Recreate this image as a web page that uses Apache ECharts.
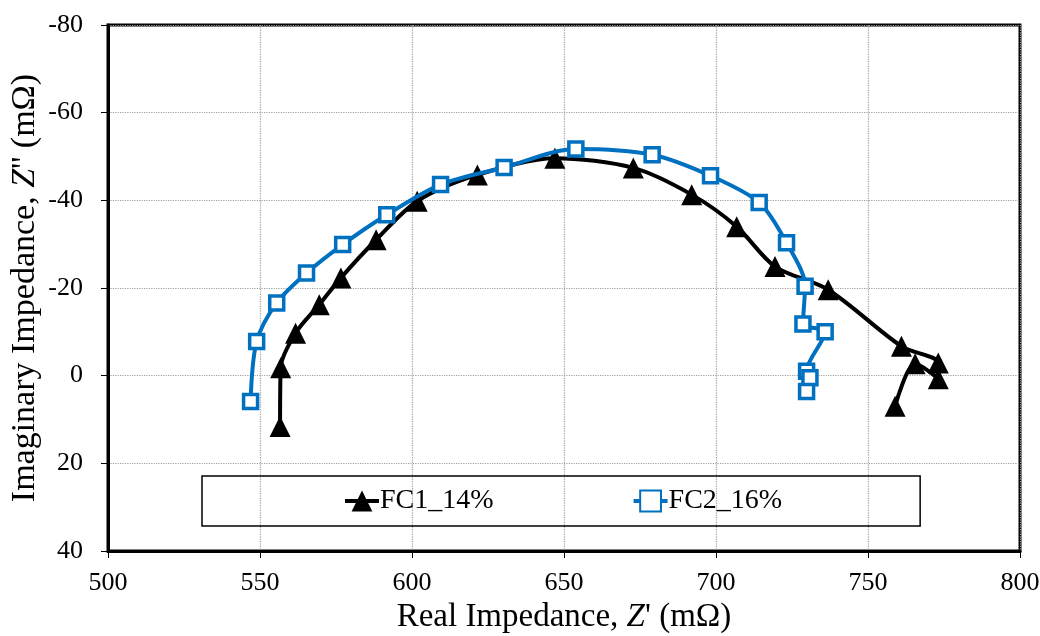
<!DOCTYPE html>
<html>
<head>
<meta charset="utf-8">
<script src="https://cdn.jsdelivr.net/npm/echarts@6/dist/echarts.min.js"></script>
<style>
  html, body { margin: 0; padding: 0; background: #fff; }
  #chart { width: 1040px; height: 636px; }
</style>
</head>
<body>
<div id="chart"></div>
<script>
  // Nyquist data (Z' , Z'' in mOhm)
  var fc1Real = [556.6, 556.8, 561.7, 569.5, 576.6, 588.2, 601.7, 621.5, 647.0, 672.8, 692.0, 706.8, 719.4, 736.9, 761.0, 773.1, 773.1, 765.5, 758.9]
  var fc1Imag = [11.6, -1.8, -9.7, -16.2, -22.3, -31.0, -39.8, -45.8, -49.6, -47.4, -41.3, -34.0, -24.9, -19.6, -6.7, -2.9, 0.7, -2.7, 7.0]
  var fc2Real = [546.9, 548.9, 555.5, 565.3, 577.2, 591.7, 609.4, 630.3, 653.9, 679.0, 698.2, 714.2, 723.2, 729.3, 728.6, 735.9, 729.8, 730.9, 729.8]
  var fc2Imag = [5.9, -7.8, -16.6, -23.4, -29.9, -36.7, -43.6, -47.5, -51.7, -50.4, -45.6, -39.5, -30.3, -20.4, -11.8, -10.0, -1.0, 0.5, 3.6]
  var seriesNames = ['FC1_14%', 'FC2_16%']

  function pairs(xs, ys) {
    var out = []
    for (var i = 0; i < xs.length; i++) {
      out.push([xs[i], ys[i]])
    }
    return out
  }

  var font = 'Liberation Serif'
  var chart = echarts.init(document.getElementById('chart'))
  var option = {
    backgroundColor: '#fff',
    animation: false,
    grid: {
      left: 108,
      right: 20,
      top: 25,
      bottom: 85,
      containLabel: false,
      outerBoundsMode: 'none',
      show: true,
      borderColor: '#000',
      borderWidth: 3
    },
    legend: {
      left: 202,
      top: 476,
      padding: [11, 138, 11, 141],
      itemWidth: 34,
      itemHeight: 26,
      itemGap: 138,
      borderColor: '#000',
      borderWidth: 1.5,
      lineStyle: { width: 4 },
      textStyle: { fontFamily: font, fontSize: 28, color: '#000', padding: [0, 0, 0, -4] },
      data: seriesNames
    },
    xAxis: {
      type: 'value',
      min: 500,
      max: 800,
      interval: 50,
      name: "Real Impedance, {i|Z}' (mΩ)",
      nameLocation: 'middle',
      nameGap: 50,
      nameMoveOverlap: false,
      nameTextStyle: {
        fontFamily: font, fontSize: 33, color: '#000',
        rich: { i: { fontFamily: font, fontSize: 33, fontStyle: 'italic', color: '#000' } }
      },
      axisLine: { show: true, onZero: false, lineStyle: { color: '#000', width: 3 } },
      axisTick: { show: true, length: 7, lineStyle: { color: '#000', width: 1 } },
      axisLabel: { fontFamily: font, fontSize: 26, color: '#000', margin: 19 },
      splitLine: { show: true, lineStyle: { color: '#a0a0a0', type: 'dotted', width: 1.2 } }
    },
    yAxis: {
      type: 'value',
      inverse: true,
      min: -80,
      max: 40,
      interval: 20,
      name: "Imaginary Impedance, {i|Z}'' (mΩ)",
      nameLocation: 'middle',
      nameGap: 66,
      nameMoveOverlap: false,
      nameTextStyle: {
        fontFamily: font, fontSize: 34, color: '#000',
        rich: { i: { fontFamily: font, fontSize: 34, fontStyle: 'italic', color: '#000' } }
      },
      axisLine: { show: true, onZero: false, lineStyle: { color: '#000', width: 3 } },
      axisTick: { show: true, length: 7, lineStyle: { color: '#000', width: 1 } },
      axisLabel: { fontFamily: font, fontSize: 26, color: '#000', margin: 25 },
      splitLine: { show: true, lineStyle: { color: '#a0a0a0', type: 'dotted', width: 1.2 } }
    },
    series: [
      {
        name: seriesNames[0],
        type: 'line',
        data: pairs(fc1Real, fc1Imag),
        smooth: 0.3,
        symbol: 'triangle',
        symbolSize: 21,
        lineStyle: { color: '#000', width: 4 },
        itemStyle: { color: '#000', borderWidth: 0 },
        z: 2
      },
      {
        name: seriesNames[1],
        type: 'line',
        data: pairs(fc2Real, fc2Imag),
        smooth: 0.3,
        symbol: 'rect',
        symbolSize: 14,
        lineStyle: { color: '#0070c0', width: 4 },
        itemStyle: { color: '#fff', borderColor: '#0070c0', borderWidth: 3.5 },
        z: 3
      }
    ]
  }
  chart.setOption(option)
</script>
</body>
</html>
